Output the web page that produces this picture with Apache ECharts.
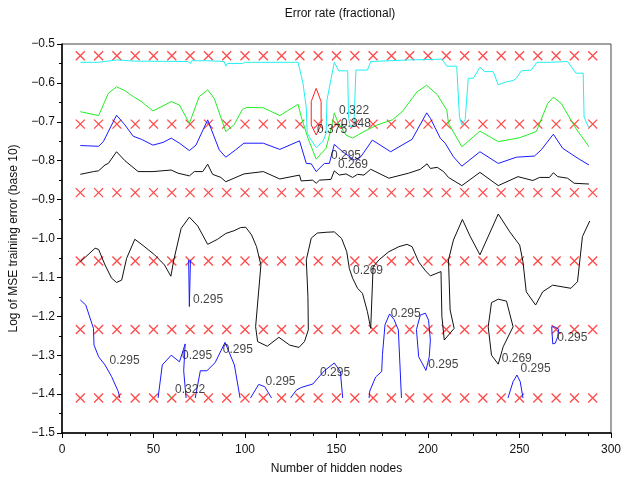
<!DOCTYPE html>
<html>
<head>
<meta charset="utf-8">
<script src="https://cdn.jsdelivr.net/npm/echarts@6.0.0/dist/echarts.min.js"></script>
<style>
  html, body { margin: 0; padding: 0; background: #fff; }
  #chart { width: 624px; height: 483px; }
</style>
</head>
<body>
<div id="chart"></div>
<script>
// grid of evaluated points (hidden nodes x log MSE)
const nodes = [10, 20, 30, 40, 50, 60, 70, 80, 90, 100, 110, 120, 130, 140, 150,
  160, 170, 180, 190, 200, 210, 220, 230, 240, 250, 260, 270, 280, 290];
const logMse = [-0.53, -0.706, -0.882, -1.058, -1.234, -1.41];

// contour lines of the error rate
const cyan348 = [[10,-0.547],[20,-0.547],[20.8,-0.543],[29.8,-0.541],[39.8,-0.544],[68.7,-0.545],[70.2,-0.550],[70.9,-0.543],[79.6,-0.543],[80.5,-0.545],[88.6,-0.545],[89.5,-0.557],[90.4,-0.550],[98.6,-0.550],[100.4,-0.547],[129,-0.547],[131.7,-0.601],[133.5,-0.665],[134,-0.730],[136.2,-0.747],[138.9,-0.766],[142.5,-0.751],[144.3,-0.730],[144.8,-0.644],[148.8,-0.547],[151.2,-0.569],[156.1,-0.569],[156.6,-0.69],[157.5,-0.712],[159.5,-0.712],[160.6,-0.567],[166.9,-0.567],[168.7,-0.545],[189.5,-0.541],[207.6,-0.539],[210.3,-0.557],[215.7,-0.557],[217.2,-0.687],[218.5,-0.708],[220.3,-0.695],[222,-0.588],[224.8,-0.588],[228.4,-0.560],[231.1,-0.571],[235.6,-0.571],[238.4,-0.605],[242.9,-0.597],[246.5,-0.594],[248.3,-0.588],[251,-0.569],[256.4,-0.567],[259.5,-0.547],[267.3,-0.547],[268.2,-0.543],[276.3,-0.545],[280.8,-0.575],[284.8,-0.575],[285.3,-0.687],[287.7,-0.714]];
const green322 = [[10,-0.674],[20,-0.684],[25.3,-0.627],[29.8,-0.610],[34.4,-0.620],[38.9,-0.635],[43.4,-0.648],[49.7,-0.672],[55.2,-0.659],[59.7,-0.648],[64.2,-0.657],[69.6,-0.704],[75,-0.635],[79.6,-0.618],[83.2,-0.640],[89.5,-0.725],[94,-0.708],[98.6,-0.668],[101,-0.663],[110,-0.664],[119,-0.684],[129,-0.655],[130.7,-0.687],[134.4,-0.742],[138.9,-0.796],[144.3,-0.768],[147.5,-0.71],[148.8,-0.677],[150.6,-0.700],[155.2,-0.734],[158.8,-0.742],[165,-0.725],[172.3,-0.708],[180.5,-0.695],[185.9,-0.674],[194,-0.623],[199.3,-0.606],[205,-0.630],[210.3,-0.670],[211.2,-0.704],[218.5,-0.764],[228.4,-0.724],[238.4,-0.751],[250.1,-0.741],[259.2,-0.725],[265.5,-0.652],[268.5,-0.637],[272.7,-0.652],[280.8,-0.717],[288,-0.764]];
const greenDot = [[58.9,-1.404],[59.6,-1.41]];
const blue295 = [[10,-0.761],[20,-0.763],[22.6,-0.751],[29.8,-0.683],[34.4,-0.708],[38.9,-0.737],[43.4,-0.745],[49.7,-0.760],[55.2,-0.753],[59.7,-0.742],[64.2,-0.755],[69.6,-0.774],[73.2,-0.760],[79.6,-0.695],[85.9,-0.772],[89.5,-0.791],[94.9,-0.772],[99.4,-0.755],[110,-0.755],[119,-0.771],[129.8,-0.749],[133.5,-0.807],[136.2,-0.808],[138.9,-0.828],[143.4,-0.807],[146.1,-0.807],[148.8,-0.758],[153.4,-0.777],[159.7,-0.798],[163.3,-0.790],[169.6,-0.747],[179.6,-0.777],[191.3,-0.745],[199.3,-0.677],[201.3,-0.691],[206.7,-0.742],[209.4,-0.755],[213.9,-0.790],[218.5,-0.814],[228.4,-0.777],[238.4,-0.807],[248.3,-0.791],[258.2,-0.788],[261.9,-0.772],[268.5,-0.732],[273.6,-0.768],[282.6,-0.796],[288,-0.811]];
const blueA = [[69.2,-1.055],[69.6,-1.175],[70.2,-1.055]];
const blueB = [[10,-1.158],[13,-1.171],[17.2,-1.231],[17.5,-1.274],[20,-1.304],[23.5,-1.325],[27.1,-1.355],[30.8,-1.394],[31.6,-1.41]];
const blueC = [[52.5,-1.41],[54.8,-1.325],[59.7,-1.300],[64.2,-1.317],[67.3,-1.271],[66.5,-1.34],[67.8,-1.41]];
const blueD = [[72.8,-1.41],[75.6,-1.340],[79.2,-1.340],[83.7,-1.319],[89.1,-1.267],[94.2,-1.325],[97.3,-1.41]];
const blueE = [[103,-1.41],[107.5,-1.375],[110.8,-1.381],[114.5,-1.41]];
const blueF = [[124.9,-1.41],[128,-1.390],[130.7,-1.383],[137.1,-1.374],[139.8,-1.359],[143.4,-1.340],[148.8,-1.320],[152.1,-1.342],[153.4,-1.41]];
const blueG = [[167.8,-1.41],[168.2,-1.392],[171.4,-1.356],[174.7,-1.342],[175.1,-1.299],[176.5,-1.222],[179,-1.194],[181.4,-1.208],[183.8,-1.235],[185.5,-1.41]];
const blueH = [[195.8,-1.197],[198.6,-1.192],[200.3,-1.210],[201.3,-1.261],[200.7,-1.304],[198.9,-1.339],[194.9,-1.304],[193.7,-1.234],[195.8,-1.197]];
const blueI = [[243.7,-1.41],[246.5,-1.368],[248.6,-1.351],[250.4,-1.368],[251.9,-1.41]];
const blueJ = [[267.6,-1.227],[269.1,-1.227],[271.4,-1.233],[270.9,-1.252],[269.6,-1.269],[268.2,-1.271],[267.8,-1.244],[267.6,-1.227]];
const black269 = [[10,-0.835],[17.2,-0.828],[20,-0.826],[23.5,-0.811],[25.3,-0.807],[29.8,-0.777],[34.4,-0.800],[41.6,-0.828],[49.7,-0.828],[59.7,-0.824],[63.3,-0.832],[69.6,-0.839],[72.3,-0.828],[76.9,-0.828],[79.6,-0.809],[82.3,-0.835],[86.8,-0.843],[89.5,-0.854],[94,-0.845],[99.4,-0.834],[110,-0.828],[119,-0.847],[129.8,-0.837],[130.7,-0.852],[137,-0.850],[138.9,-0.858],[140.7,-0.850],[147,-0.848],[148.8,-0.826],[151.5,-0.837],[155.2,-0.834],[158.8,-0.843],[161.5,-0.835],[165,-0.837],[168.7,-0.822],[178.6,-0.845],[189.5,-0.832],[195.8,-0.822],[199.5,-0.808],[201.3,-0.820],[205,-0.817],[208.5,-0.828],[211.2,-0.843],[218.5,-0.864],[228.4,-0.830],[238.4,-0.864],[249.2,-0.841],[257.3,-0.851],[260.9,-0.843],[266.4,-0.843],[268.5,-0.831],[270.9,-0.841],[276.3,-0.845],[279.9,-0.858],[288,-0.860]];
const blackLow = [[10,-1.060],[18.1,-1.025],[20,-1.028],[23.5,-1.068],[27.1,-1.102],[29.8,-1.113],[32.6,-1.107],[35.3,-1.051],[39.8,-1.002],[44.3,-1.018],[50.6,-1.042],[56,-1.068],[59.5,-1.097],[61.1,-1.055],[65.1,-0.974],[69.6,-0.945],[74.2,-0.968],[79.6,-1.015],[85,-1.002],[89.5,-0.987],[94,-0.980],[97.6,-0.972],[100.4,-0.971],[103.6,-0.991],[106.3,-1.021],[108.7,-1.068],[105.8,-1.227],[106.9,-1.265],[112.2,-1.277],[118.5,-1.254],[124.4,-1.274],[129.5,-1.280],[132.5,-1.265],[134.6,-1.235],[134.4,-1.150],[133.5,-1.055],[136.2,-0.999],[139.5,-0.986],[144.3,-0.984],[148.8,-0.983],[152.8,-1.000],[155.6,-1.034],[157,-1.077],[158.8,-1.102],[161.5,-1.128],[164.2,-1.141],[166.9,-1.188],[168.7,-1.231],[170,-1.073],[173.2,-1.055],[178.6,-1.034],[184.1,-1.021],[188.6,-1.015],[191.3,-1.021],[194.9,-1.060],[198.6,-1.083],[201.3,-1.096],[207.1,-1.085],[207.6,-1.201],[208.9,-1.261],[214.3,-1.231],[212.1,-1.184],[211.2,-1.055],[213.9,-1.004],[218.8,-0.951],[223,-0.994],[228.4,-1.042],[238.4,-0.937],[244.7,-0.983],[250.1,-1.017],[251.9,-1.060],[253.7,-1.137],[258.8,-1.171],[262.7,-1.137],[268.1,-1.120],[278.1,-1.128],[281.7,-1.111],[284.4,-0.995],[288.4,-0.955]];
const blackLoop = [[234.7,-1.165],[238.4,-1.156],[242.9,-1.161],[246.5,-1.227],[241.1,-1.278],[238.4,-1.323],[234.7,-1.300],[232.9,-1.227],[234.7,-1.165]];
const red375 = [[138.9,-0.614],[141.6,-0.648],[141.6,-0.708],[138.9,-0.734],[136.2,-0.708],[136.2,-0.648],[138.9,-0.614]];

// contour labels: [x, y, text]
const contourLabels = [
  [139.4,-0.721,'0.375'], [151.4,-0.672,'0.322'], [152.4,-0.706,'0.348'],
  [147,-0.788,'0.295'], [150.8,-0.811,'0.269'],
  [71.6,-1.158,'0.295'], [26,-1.315,'0.295'], [65.6,-1.302,'0.295'],
  [87.9,-1.287,'0.295'], [61.8,-1.389,'0.322'], [111.2,-1.369,'0.295'],
  [141,-1.346,'0.295'], [159,-1.084,'0.269'], [179.6,-1.192,'0.295'],
  [200.2,-1.325,'0.295'], [240.3,-1.310,'0.269'], [250.6,-1.335,'0.295'],
  [270.7,-1.256,'0.295']
];

const font = 'Liberation Sans, Arial, sans-serif';
const chart = echarts.init(document.getElementById('chart'));

const gridPts = [];
logMse.forEach(y => nodes.forEach(x => gridPts.push([x, y])));

function contour(data, color) {
  return {
    type: 'line', data, showSymbol: false, symbol: 'none', silent: true,
    lineStyle: { color, width: 1 }, z: 3
  };
}

const option = {
  animation: false,
  title: {
    text: 'Error rate (fractional)', left: 335, top: 3, textAlign: 'center',
    textStyle: { fontFamily: font, fontSize: 12, fontWeight: 'normal', color: '#111' }
  },
  grid: { left: 59, right: 12, top: 44, bottom: 50, show: true, borderColor: '#444', borderWidth: 1 },
  xAxis: {
    type: 'value', min: 0, max: 300, interval: 50,
    name: 'Number of hidden nodes', nameLocation: 'middle', nameGap: 30,
    nameTextStyle: { fontFamily: font, fontSize: 12, color: '#111' },
    axisLine: { onZero: false, lineStyle: { color: '#000', width: 1.5 } },
    axisTick: { length: 5, lineStyle: { color: '#000' } },
    minorTick: { show: true, splitNumber: 4, length: 3, lineStyle: { color: '#000' } },
    splitLine: { show: false },
    axisLabel: { fontFamily: font, fontSize: 12, color: '#111', margin: 11 }
  },
  yAxis: {
    type: 'value', min: -1.5, max: -0.5, interval: 0.1,
    name: 'Log of MSE training error (base 10)', nameLocation: 'middle', nameGap: 42,
    nameTextStyle: { fontFamily: font, fontSize: 12, color: '#111' },
    axisLine: { onZero: false, lineStyle: { color: '#000', width: 1.5 } },
    axisTick: { length: 5, lineStyle: { color: '#000' } },
    minorTick: { show: true, splitNumber: 2, length: 3, lineStyle: { color: '#000' } },
    splitLine: { show: false },
    axisLabel: {
      fontFamily: font, fontSize: 12, color: '#111', margin: 7,
      formatter: v => v.toFixed(1).replace('-', '\u2212')
    }
  },
  series: [
    {
      type: 'scatter', data: gridPts, silent: true, z: 2,
      symbol: 'path://M0 0L10 10M10 0L0 10', symbolSize: 9,
      itemStyle: { color: 'rgba(0,0,0,0)', borderColor: '#ff1a1a', borderWidth: 1.3 }
    },
    contour(cyan348, '#22f0f0'),
    contour(green322, '#22ee22'),
    contour(greenDot, '#22ee22'),
    contour(blue295, '#1a1aff'),
    contour(blueA, '#1a1aff'),
    contour(blueB, '#1a1aff'),
    contour(blueC, '#1a1aff'),
    contour(blueD, '#1a1aff'),
    contour(blueE, '#1a1aff'),
    contour(blueF, '#1a1aff'),
    contour(blueG, '#1a1aff'),
    contour(blueH, '#1a1aff'),
    contour(blueI, '#1a1aff'),
    contour(blueJ, '#1a1aff'),
    contour(black269, '#111'),
    contour(blackLow, '#111'),
    contour(blackLoop, '#111'),
    contour(red375, '#ff2020'),
    {
      type: 'scatter', data: contourLabels, symbolSize: 0, silent: true, z: 5,
      label: {
        show: true, position: 'right', distance: 0,
        formatter: p => p.value[2],
        fontFamily: font, fontSize: 12, color: '#111'
      }
    }
  ]
};

chart.setOption(option);
window.addEventListener('resize', () => chart.resize());
</script>
</body>
</html>
